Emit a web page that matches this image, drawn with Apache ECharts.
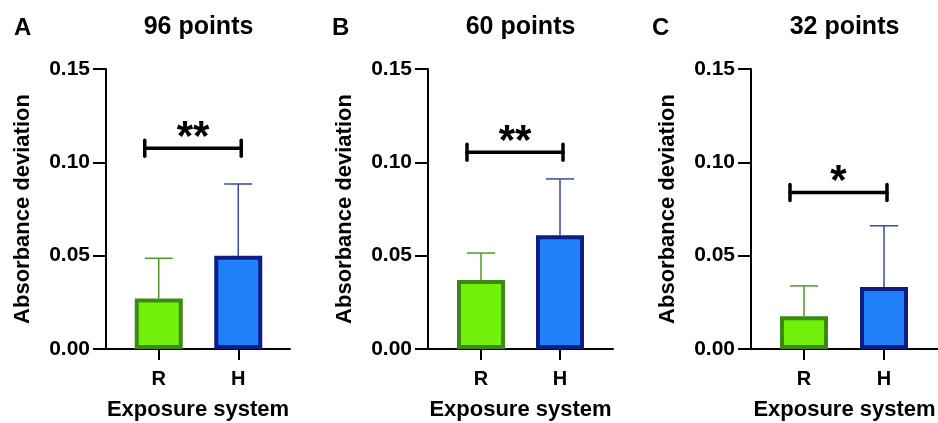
<!DOCTYPE html>
<html><head><meta charset="utf-8">
<script src="https://cdn.jsdelivr.net/npm/echarts@6/dist/echarts.min.js"></script>
<style>html,body{margin:0;padding:0;background:#fff}#c{width:938px;height:423px}</style>
</head><body><div id="c"></div>
<script>
const panelLetters = ['A', 'B', 'C'];
const panelTitles = ['96 points', '60 points', '32 points'];
const categories = ['R', 'H'];
const means96 = [0.027, 0.050];
const sd96 = [0.0216, 0.0384];
const means60 = [0.037, 0.061];
const sd60 = [0.0144, 0.0301];
const means32 = [0.0175, 0.0332];
const sd32 = [0.0163, 0.0328];
const sigLevels = [0.1075, 0.1054, 0.0839];
const sigLabels = ['**', '**', '*'];
const yTicks = [0, 0.05, 0.10, 0.15];
const yAxisTitle = 'Absorbance deviation';
const xAxisTitle = 'Exposure system';

const allMeans = [means96, means60, means32];
const allSd = [sd96, sd60, sd32];

// layout (styles only)
const FONT = 'Liberation Sans';
const fill = ['#72F00A', '#2080F8'];
const border = ['#3C8A14', '#0E1C85'];
const errCol = ['#4F9A2A', '#3848A8'];
const axisL = [106, 428, 751];      // y-axis line x
const axisW = [184, 185, 187];      // x-axis line length
const mainL = [119, 441.5, 764];    // category grid left
const mainW = [159, 158, 160];
const letterX = [14, 332, 652];
const titleX = [198.5, 520.5, 844.5];
const TOP = 69, BOTTOM = 74;

const option = {
  backgroundColor: '#fff',
  animation: false,
  title: [],
  grid: [], xAxis: [], yAxis: [], series: []
};

for (let i = 0; i < 3; i++) {
  option.title.push({ text: panelLetters[i], left: letterX[i], top: 16, padding: 0,
    textStyle: { fontFamily: FONT, fontSize: 24, fontWeight: 'bold', color: '#000' } });
  option.title.push({ text: panelTitles[i], left: titleX[i], top: 15, padding: 0, textAlign: 'center',
    textStyle: { fontFamily: FONT, fontSize: 25, fontWeight: 'bold', color: '#000' } });
}
for (let i = 0; i < 3; i++) {
  option.grid.push({ left: mainL[i], width: mainW[i], top: TOP, bottom: BOTTOM,
    containLabel: false, outerBoundsMode: 'none' });
}
for (let i = 0; i < 3; i++) {
  option.grid.push({ left: axisL[i], width: axisW[i], top: TOP, bottom: BOTTOM,
    containLabel: false, outerBoundsMode: 'none' });
}
for (let i = 0; i < 3; i++) {
  option.xAxis.push({
    gridIndex: i, type: 'category', data: categories,
    axisLine: { show: false },
    axisTick: { show: true, alignWithLabel: true, length: 11, lineStyle: { width: 2, color: '#000' } },
    axisLabel: { fontFamily: FONT, fontSize: 20, fontWeight: 'bold', color: '#000', margin: 20 }
  });
  option.yAxis.push({
    gridIndex: i, type: 'value', min: yTicks[0], max: yTicks[yTicks.length - 1], interval: 0.05,
    offset: mainL[i] - axisL[i],
    axisLine: { show: true, lineStyle: { width: 2, color: '#000' } },
    axisTick: { show: true, length: 13, lineStyle: { width: 2, color: '#000' } },
    splitLine: { show: false },
    axisLabel: { fontFamily: FONT, fontSize: 21, fontWeight: 'bold', color: '#000', margin: 16,
      formatter: v => v.toFixed(2) },
    name: yAxisTitle, nameLocation: 'middle', nameGap: 72,
    nameTextStyle: { fontFamily: FONT, fontSize: 22, fontWeight: 'bold', color: '#000' }
  });
}
for (let i = 0; i < 3; i++) {
  option.xAxis.push({
    gridIndex: 3 + i, type: 'value', min: 0, max: 1,
    axisLine: { show: true, lineStyle: { width: 2, color: '#000' } },
    axisTick: { show: false }, axisLabel: { show: false }, splitLine: { show: false },
    name: xAxisTitle, nameLocation: 'middle', nameGap: 50,
    nameTextStyle: { fontFamily: FONT, fontSize: 22, fontWeight: 'bold', color: '#000' }
  });
  option.yAxis.push({ gridIndex: 3 + i, type: 'value', min: 0, max: 1, show: false });
}

for (let i = 0; i < 3; i++) {
  const means = allMeans[i], sds = allSd[i];
  option.series.push({
    type: 'bar', xAxisIndex: i, yAxisIndex: i, barWidth: 48, z: 3,
    data: means.map((m, k) => ({ value: m,
      itemStyle: { color: fill[k], borderColor: border[k], borderWidth: 4 } }))
  });
  option.series.push({
    type: 'custom', xAxisIndex: i, yAxisIndex: i, z: 2,
    encode: { x: 0, y: [1, 2] },
    data: means.map((m, k) => [k, m, m + sds[k]]),
    renderItem: function (params, api) {
      const k = api.value(0);
      const p0 = api.coord([k, api.value(1)]);
      const p1 = api.coord([k, api.value(2)]);
      const st = { stroke: errCol[k], lineWidth: 1.5 };
      return { type: 'group', children: [
        { type: 'line', shape: { x1: p0[0], y1: p0[1], x2: p1[0], y2: p1[1] }, style: st },
        { type: 'line', shape: { x1: p1[0] - 14, y1: p1[1], x2: p1[0] + 14, y2: p1[1] }, style: st }
      ] };
    }
  });
  const label = sigLabels[i];
  option.series.push({
    type: 'custom', xAxisIndex: i, yAxisIndex: i, z: 4,
    encode: { x: [0, 1], y: 2 },
    data: [[0, 1, sigLevels[i]]],
    renderItem: function (params, api) {
      const pl = api.coord([api.value(0), api.value(2)]);
      const pr = api.coord([api.value(1), api.value(2)]);
      const x1 = pl[0] - 14, x2 = pr[0] + 3, y = pl[1];
      const st = { stroke: '#000', lineWidth: 3.5, lineCap: 'round' };
      return { type: 'group', children: [
        { type: 'line', shape: { x1: x1, y1: y, x2: x2, y2: y }, style: st },
        { type: 'line', shape: { x1: x1, y1: y - 8, x2: x1, y2: y + 8 }, style: st },
        { type: 'line', shape: { x1: x2, y1: y - 8, x2: x2, y2: y + 8 }, style: st },
        { type: 'text', style: { text: label,
            x: (x1 + x2) / 2, y: y - 10, align: 'center', verticalAlign: 'middle',
            font: 'bold 42px "' + FONT + '"', fill: '#000' } }
      ] };
    }
  });
}

const chart = echarts.init(document.getElementById('c'), null, { renderer: 'canvas' });
chart.setOption(option);
</script></body></html>
